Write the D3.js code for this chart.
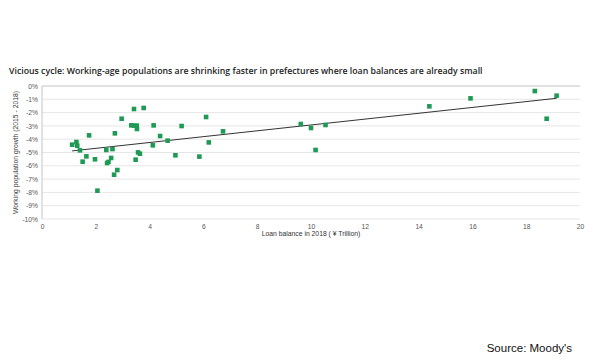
<!DOCTYPE html>
<html>
<head>
<meta charset="utf-8">
<script src="https://cdn.jsdelivr.net/npm/d3@7"></script>
<style>
  body { margin: 0; background: #fff; }
  svg { display: block; }
</style>
</head>
<body>
<div id="chart"></div>
<script>
// loan balance 2018 (trillion yen) and working population growth 2015-2018 (%)
var loans = [1.12, 1.28, 1.31, 1.41, 1.51, 1.65, 1.75, 1.97, 2.06, 2.39, 2.42, 2.47, 2.57, 2.62, 2.68, 2.71,
             2.80, 2.96, 3.32, 3.42, 3.43, 3.52, 3.53, 3.48, 3.57, 3.64, 3.78, 4.12, 4.15, 4.39, 4.67, 4.96,
             5.19, 5.85, 6.10, 6.20, 6.73, 9.62, 10.00, 10.17, 10.54, 14.40, 15.93, 18.32, 18.76, 19.13];
var growth = [-4.41, -4.21, -4.49, -4.84, -5.69, -5.29, -3.71, -5.51, -7.87, -4.81, -5.79, -5.71, -5.41, -4.74, -6.67, -3.56,
              -6.32, -2.46, -2.96, -1.73, -2.98, -2.98, -3.23, -5.54, -4.99, -5.09, -1.65, -4.46, -2.96, -3.76, -4.11, -5.21,
              -3.01, -5.31, -2.33, -4.24, -3.41, -2.86, -3.16, -4.81, -2.93, -1.53, -0.93, -0.38, -2.46, -0.73];
var xTicks = [0, 2, 4, 6, 8, 10, 12, 14, 16, 18, 20];
var yTicks = [0, -1, -2, -3, -4, -5, -6, -7, -8, -9, -10];

var W = 600, H = 360;
var m = {left: 42, right: 20, top: 86, bottom: 141};

var svg = d3.select("#chart").append("svg")
    .attr("width", W)
    .attr("height", H);

var x = d3.scaleLinear().domain([0, 20]).range([m.left, W - m.right]);
var y = d3.scaleLinear().domain([-10, 0]).range([H - m.bottom, m.top]);

// title
svg.append("text")
    .attr("x", 9).attr("y", 74)
    .attr("font-family", "Open Sans, sans-serif")
    .attr("font-size", 8.75)
    .attr("font-weight", 600)
    .attr("fill", "#222")
    .text("Vicious cycle: Working-age populations are shrinking faster in prefectures where loan balances are already small");

// gridlines
svg.append("g").selectAll("line")
    .data(yTicks)
    .enter().append("line")
        .attr("x1", x(0)).attr("x2", x(20))
        .attr("y1", function(d) { return y(d); })
        .attr("y2", function(d) { return y(d); })
        .attr("stroke", function(d) { return d == 0 ? "#c4c4c4" : "#e6e6e6"; })
        .attr("stroke-width", 1);

// left axis line
svg.append("line")
    .attr("x1", x(0)).attr("x2", x(0))
    .attr("y1", y(0)).attr("y2", y(-10))
    .attr("stroke", "#c4c4c4");

var yAxis = svg.append("g")
    .attr("transform", "translate(" + x(0) + ",0)")
    .call(d3.axisLeft(y).tickValues(yTicks).tickSize(0).tickPadding(4)
        .tickFormat(function(d) { return d + "%"; }));
yAxis.select(".domain").remove();
yAxis.selectAll("text").attr("font-family", "Liberation Sans, Arial, sans-serif").attr("font-size", 6.7).attr("fill", "#555");

var xAxis = svg.append("g")
    .attr("transform", "translate(0," + y(-10) + ")")
    .call(d3.axisBottom(x).tickValues(xTicks).tickSize(0).tickPadding(5));
xAxis.select(".domain").remove();
xAxis.selectAll("text").attr("font-family", "Liberation Sans, Arial, sans-serif").attr("font-size", 6.7).attr("fill", "#555");

// axis titles
svg.append("text")
    .attr("x", (x(0) + x(20)) / 2).attr("y", 236)
    .attr("text-anchor", "middle")
    .attr("font-family", "Liberation Sans, Arial, sans-serif")
    .attr("font-size", 6.8)
    .attr("fill", "#333")
    .text("Loan balance in 2018 ( \u00a5 Trillion)");

svg.append("text")
    .attr("transform", "translate(18," + y(-5) + ") rotate(-90)")
    .attr("text-anchor", "middle")
    .attr("font-family", "Liberation Sans, Arial, sans-serif")
    .attr("font-size", 6.8)
    .attr("fill", "#333")
    .text("Working population growth (2015 - 2018)");

// trend line (least squares)
var n = loans.length;
var mx = d3.mean(loans), my = d3.mean(growth);
var sxy = 0, sxx = 0;
for (var i = 0; i < n; i++) {
    sxy += (loans[i] - mx) * (growth[i] - my);
    sxx += (loans[i] - mx) * (loans[i] - mx);
}
var slope = sxy / sxx, icpt = my - slope * mx;
var x0 = d3.min(loans), x1 = d3.max(loans);

svg.append("line")
    .attr("x1", x(x0)).attr("y1", y(icpt + slope * x0))
    .attr("x2", x(x1)).attr("y2", y(icpt + slope * x1))
    .attr("stroke", "#333")
    .attr("stroke-width", 1);

// points
var s = 4.6;
svg.append("g").selectAll("rect")
    .data(loans)
    .enter().append("rect")
        .attr("x", function(d) { return x(d) - s / 2; })
        .attr("y", function(d, i) { return y(growth[i]) - s / 2; })
        .attr("width", s).attr("height", s)
        .attr("fill", "#1f9a55");

svg.append("text")
    .attr("x", 572).attr("y", 352)
    .attr("text-anchor", "end")
    .attr("font-family", "Liberation Sans, Arial, sans-serif")
    .attr("font-size", 11.5)
    .attr("fill", "#111")
    .text("Source: Moody's");
</script>
</body>
</html>
